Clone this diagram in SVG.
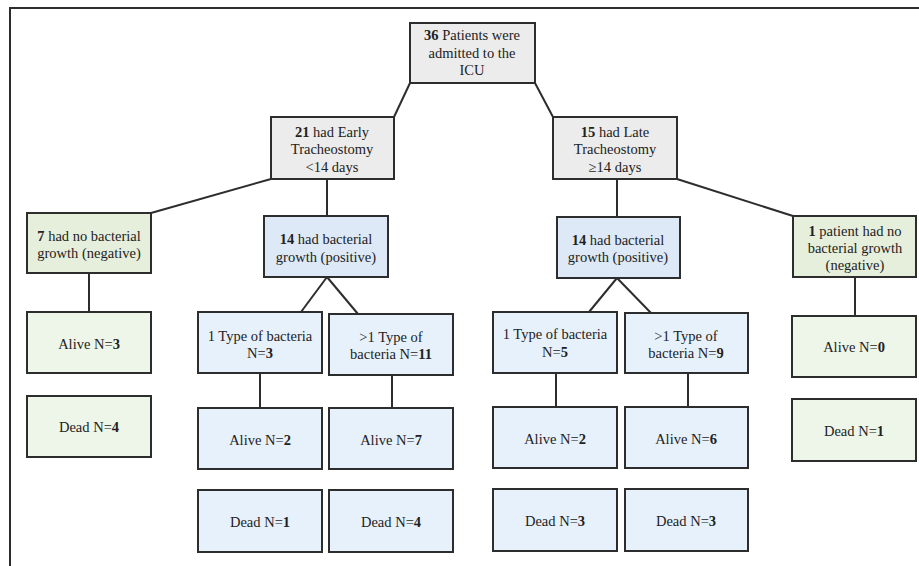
<svg xmlns="http://www.w3.org/2000/svg" width="919" height="566" viewBox="0 0 919 566" font-family="'Liberation Serif', serif">
<style>
.b{stroke:#2d2d2d;stroke-width:2}
.g{fill:#ececec}
.gr{fill:#e6efdc}
.grl{fill:#edf6e8}
.bl{fill:#dde9f7}
.bll{fill:#e7f1fb}
text{font-family:'Liberation Serif',serif;font-size:14.5px;fill:#222;text-anchor:middle}
.k{font-weight:bold}
.c line{stroke:#2d2d2d;stroke-width:2}
</style>
<rect width="919" height="566" fill="#fff"/>
<path d="M10,566 V8 H919" fill="none" stroke="#2d2d2d" stroke-width="2"/>
<g class="c" id="connectors">
<line x1="410" y1="83" x2="394" y2="117"/>
<line x1="535" y1="83" x2="553" y2="117"/>
<line x1="271" y1="179" x2="151" y2="213"/>
<line x1="327" y1="179" x2="327" y2="216"/>
<line x1="617" y1="179" x2="617" y2="217"/>
<line x1="677" y1="179" x2="793" y2="216"/>
<line x1="89" y1="273" x2="89" y2="312"/>
<line x1="327" y1="277" x2="301" y2="312"/>
<line x1="327" y1="277" x2="358" y2="314"/>
<line x1="617" y1="278" x2="589" y2="312"/>
<line x1="617" y1="278" x2="651" y2="313"/>
<line x1="855" y1="277" x2="855" y2="316"/>
<line x1="260" y1="373" x2="260" y2="408"/>
<line x1="392" y1="375" x2="392" y2="408"/>
<line x1="556" y1="373" x2="556" y2="407"/>
<line x1="688" y1="373" x2="688" y2="407"/>
</g>
<g id="n-root"><rect class="b g" x="410" y="23" width="125" height="60"/>
<text x="472" y="40"><tspan class="k">36</tspan> Patients were</text><text x="472" y="58">admitted to the</text><text x="472" y="75">ICU</text></g>
<g id="n-early"><rect class="b g" x="271" y="117" width="123" height="62"/>
<text x="332" y="137"><tspan class="k">21</tspan> had Early</text><text x="332" y="154">Tracheostomy</text><text x="332" y="172">&lt;14 days</text></g>
<g id="n-late"><rect class="b g" x="553" y="117" width="124" height="62"/>
<text x="615" y="137"><tspan class="k">15</tspan> had Late</text><text x="615" y="154">Tracheostomy</text><text x="615" y="172">≥14 days</text></g>
<g id="n-negL"><rect class="b gr" x="27" y="213" width="124" height="60"/>
<text x="89" y="241"><tspan class="k">7</tspan> had no bacterial</text><text x="89" y="258">growth (negative)</text></g>
<g id="n-posL"><rect class="b bl" x="264" y="216" width="124" height="61"/>
<text x="326" y="244"><tspan class="k">14</tspan> had bacterial</text><text x="326" y="262">growth (positive)</text></g>
<g id="n-posR"><rect class="b bl" x="557" y="217" width="123" height="61"/>
<text x="618" y="245"><tspan class="k">14</tspan> had bacterial</text><text x="618" y="262">growth (positive)</text></g>
<g id="n-negR"><rect class="b gr" x="793" y="216" width="123" height="61"/>
<text x="855" y="236"><tspan class="k">1</tspan> patient had no</text><text x="855" y="253">bacterial growth</text><text x="855" y="270">(negative)</text></g>
<g id="n-aliveNL"><rect class="b grl" x="27" y="312" width="124" height="61"/>
<text x="89" y="349">Alive N=<tspan class="k">3</tspan></text></g>
<g id="n-deadNL"><rect class="b grl" x="27" y="396" width="124" height="61"/>
<text x="89" y="432">Dead N=<tspan class="k">4</tspan></text></g>
<g id="n-1L"><rect class="b bll" x="198" y="312" width="124" height="61"/>
<text x="260" y="341">1 Type of bacteria</text><text x="260" y="358">N=<tspan class="k">3</tspan></text></g>
<g id="n-2L"><rect class="b bll" x="329" y="314" width="124" height="61"/>
<text x="391" y="342">&gt;1 Type of</text><text x="391" y="359">bacteria N=<tspan class="k">11</tspan></text></g>
<g id="n-a1L"><rect class="b bll" x="198" y="408" width="124" height="61"/>
<text x="260" y="445">Alive N=<tspan class="k">2</tspan></text></g>
<g id="n-a2L"><rect class="b bll" x="329" y="408" width="124" height="61"/>
<text x="391" y="445">Alive N=<tspan class="k">7</tspan></text></g>
<g id="n-d1L"><rect class="b bll" x="198" y="490" width="124" height="62"/>
<text x="260" y="527">Dead N=<tspan class="k">1</tspan></text></g>
<g id="n-d2L"><rect class="b bll" x="329" y="490" width="124" height="62"/>
<text x="391" y="527">Dead N=<tspan class="k">4</tspan></text></g>
<g id="n-1R"><rect class="b bll" x="493" y="312" width="124" height="61"/>
<text x="555" y="339">1 Type of bacteria</text><text x="555" y="357">N=<tspan class="k">5</tspan></text></g>
<g id="n-2R"><rect class="b bll" x="625" y="313" width="123" height="60"/>
<text x="686" y="341">&gt;1 Type of</text><text x="686" y="358">bacteria N=<tspan class="k">9</tspan></text></g>
<g id="n-a1R"><rect class="b bll" x="493" y="407" width="124" height="61"/>
<text x="555" y="444">Alive N=<tspan class="k">2</tspan></text></g>
<g id="n-a2R"><rect class="b bll" x="625" y="407" width="123" height="61"/>
<text x="686" y="444">Alive N=<tspan class="k">6</tspan></text></g>
<g id="n-d1R"><rect class="b bll" x="493" y="489" width="124" height="62"/>
<text x="555" y="526">Dead N=<tspan class="k">3</tspan></text></g>
<g id="n-d2R"><rect class="b bll" x="625" y="489" width="123" height="62"/>
<text x="686" y="526">Dead N=<tspan class="k">3</tspan></text></g>
<g id="n-aliveNR"><rect class="b grl" x="792" y="316" width="124" height="61"/>
<text x="854" y="352">Alive N=<tspan class="k">0</tspan></text></g>
<g id="n-deadNR"><rect class="b grl" x="792" y="399" width="124" height="62"/>
<text x="854" y="436">Dead N=<tspan class="k">1</tspan></text></g>
</svg>
